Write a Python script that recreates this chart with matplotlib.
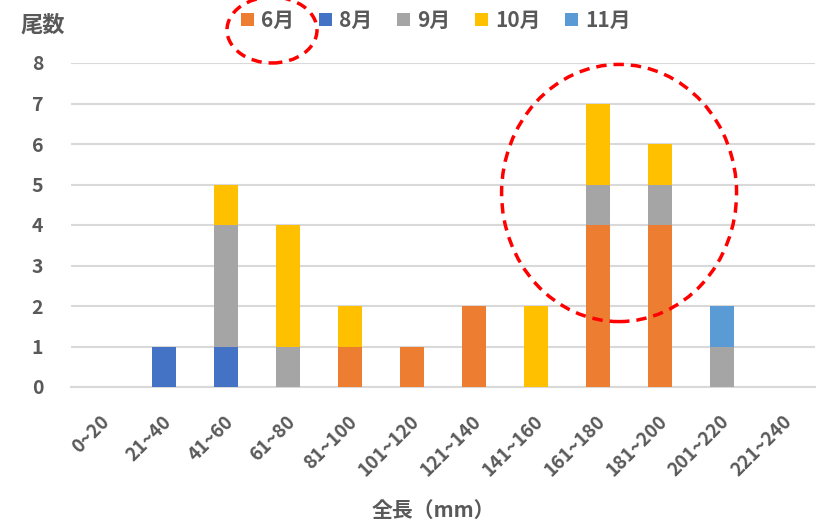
import numpy as np
import matplotlib.pyplot as plt
import matplotlib.transforms as mtransforms
from matplotlib.patches import Ellipse

plt.rcParams['font.family'] = ['Noto Sans CJK JP', 'DejaVu Sans']

# %% data ---------------------------------------------------------------------
categories = ["0~20", "21~40", "41~60", "61~80", "81~100", "101~120",
              "121~140", "141~160", "161~180", "181~200", "201~220", "221~240"]
months = ["6月", "8月", "9月", "10月", "11月"]
jun = [0, 0, 0, 0, 1, 1, 2, 0, 4, 4, 0, 0]
aug = [0, 1, 1, 0, 0, 0, 0, 0, 0, 0, 0, 0]
sep = [0, 0, 3, 1, 0, 0, 0, 0, 1, 1, 1, 0]
oct_ = [0, 0, 1, 3, 1, 0, 0, 2, 2, 1, 0, 0]
nov = [0, 0, 0, 0, 0, 0, 0, 0, 0, 0, 1, 0]
series = [jun, aug, sep, oct_, nov]
colors = ["#ED7D31", "#4472C4", "#A5A5A5", "#FFC000", "#5B9BD5"]

# %% plot ---------------------------------------------------------------------
fig = plt.figure(figsize=(8.23, 5.25), dpi=100)
ax = fig.add_axes([71 / 823, 1 - 387 / 525, (815 - 71) / 823, (387 - 63) / 525])

x = np.arange(len(categories))
bottom = np.zeros(len(categories))
for name, vals, c in zip(months, series, colors):
    ax.bar(x, vals, width=0.39, bottom=bottom, color=c, label=name, zorder=3)
    bottom += np.array(vals)

ax.set_xlim(-0.5, len(categories) - 0.5)
ax.set_ylim(0, 8)
ax.set_yticks(range(0, 9))
ax.grid(axis="y", color="#D9D9D9", linewidth=1.5, zorder=0)
for s in ["top", "right", "left"]:
    ax.spines[s].set_visible(False)
ax.spines["bottom"].set_color("#D9D9D9")
ax.spines["bottom"].set_linewidth(1.5)
ax.tick_params(length=0)
ax.tick_params(axis="y", labelsize=14, labelcolor="#595959", pad=20)
for t in ax.get_yticklabels():
    t.set_fontweight("bold")
ax.set_xticks(x)
ax.set_xticklabels(categories, rotation=45, ha="right", rotation_mode="anchor",
                   fontsize=13.5, color="#595959", fontweight="bold")
ax.tick_params(axis="x", pad=18)
shift = mtransforms.ScaledTranslation(-2 / 100, 0, fig.dpi_scale_trans)
for t in ax.get_xticklabels():
    t.set_transform(t.get_transform() + shift)
ax.set_xlabel("全長（mm）", fontsize=15, color="#595959", labelpad=0,
              fontweight="bold")
ax.xaxis.set_label_coords(433 / 823, 1 - 510 / 525, transform=fig.transFigure)
ax.xaxis.label.set_va("center")

fig.text(20 / 823, 1 - 25 / 525, "尾数", fontsize=16, color="#595959",
         fontweight="bold", va="center", ha="left")

leg = fig.legend(loc="center", bbox_to_anchor=(436 / 823, 1 - 20 / 525), ncol=5,
                 frameon=False, fontsize=15, handlelength=0.6, handleheight=0.6,
                 handletextpad=0.35, columnspacing=1.2)
for t in leg.get_texts():
    t.set_color("#595959")
    t.set_fontweight("bold")

# red dashed annotation circles
ax.add_patch(Ellipse((8.34, 4.79), 3.79, 6.35, fill=False, edgecolor="#FF0000",
                     linestyle=(0, (3, 2)), linewidth=2.5, zorder=5, clip_on=False))
fig.add_artist(Ellipse((272 / 823, 1 - 30 / 525), 90 / 823, 66 / 525,
                       transform=fig.transFigure, fill=False, edgecolor="#FF0000",
                       linestyle=(0, (3, 2)), linewidth=2.5))

fig.savefig("out.png", dpi=100)
